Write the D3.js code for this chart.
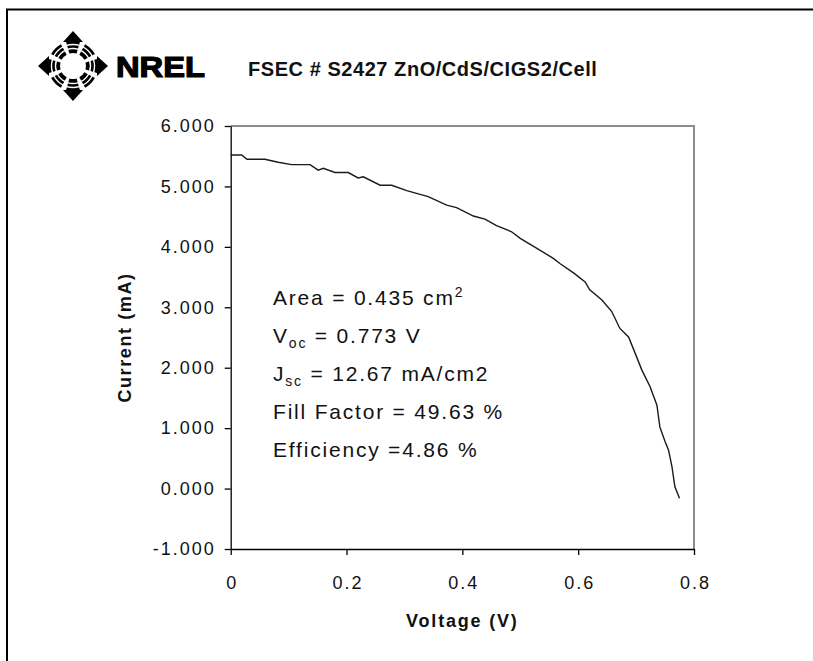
<!DOCTYPE html>
<html><head><meta charset="utf-8">
<script src="https://cdn.jsdelivr.net/npm/d3@7"></script>
<style>body{margin:0;background:#fff}svg{display:block}</style>
</head><body>
<svg id="c" width="813" height="661"></svg>
<script>
// ---- data ----
const voltage = [0.000,0.019,0.028,0.059,0.082,0.105,0.137,0.151,0.160,0.180,0.203,0.220,0.229,0.258,0.278,0.304,0.341,0.373,0.390,0.419,0.439,0.459,0.485,0.500,0.528,0.557,0.569,0.592,0.612,0.620,0.641,0.658,0.672,0.687,0.695,0.710,0.724,0.736,0.741,0.750,0.756,0.762,0.767,0.775];
const current = [5.52,5.52,5.45,5.45,5.40,5.36,5.36,5.27,5.30,5.23,5.23,5.14,5.16,5.02,5.02,4.93,4.83,4.69,4.65,4.51,4.46,4.35,4.25,4.14,3.98,3.81,3.72,3.57,3.42,3.29,3.12,2.93,2.65,2.51,2.32,1.96,1.69,1.38,1.02,0.78,0.64,0.36,0.03,-0.16];
const yTicks = [-1,0,1,2,3,4,5,6];
const xTicks = [0,0.2,0.4,0.6,0.8];
const titleText = "FSEC # S2427 ZnO/CdS/CIGS2/Cell";
const logoText = "NREL";
const xTitle = "Voltage (V)";
const yTitle = "Current (mA)";
const annotLines = [
  [["Area = 0.435 cm",""],["2","sup"]],
  [["V",""],["oc","sub"],[" = 0.773 V",""]],
  [["J",""],["sc","sub"],[" = 12.67 mA/cm2",""]],
  [["Fill Factor = 49.63 %",""]],
  [["Efficiency =4.86 %",""]]
];

// ---- drawing ----
const FONT = "'Liberation Sans', Arial, sans-serif";
const svg = d3.select("#c");

// outer frame
svg.append("path").attr("d","M7,661 L7,9.5 L813,9.5")
  .attr("fill","none").attr("stroke","#000").attr("stroke-width",2);

const x = d3.scaleLinear().domain([0,0.8]).range([230.7,694]);
const y = d3.scaleLinear().domain([-1,6]).range([549,126]);

// plot area top/right border (gray)
svg.append("path")
  .attr("d",`M${x(0)},${y(6)} L${x(0.8)},${y(6)} L${x(0.8)},${y(-1)}`)
  .attr("fill","none").attr("stroke","#8c8c8c").attr("stroke-width",2);

// y axis
const gy = svg.append("g").attr("transform",`translate(${x(0)},0)`)
  .call(d3.axisLeft(y).tickValues(yTicks).tickFormat(d=>d.toFixed(3))
        .tickSize(6).tickSizeOuter(0).tickPadding(9));
// x axis
const gx = svg.append("g").attr("transform",`translate(0,${y(-1)})`)
  .call(d3.axisBottom(x).tickValues(xTicks).tickFormat(d=>String(d))
        .tickSize(6).tickSizeOuter(0));
[gx,gy].forEach(g=>{
  g.select(".domain").attr("stroke","#000").attr("stroke-width",1.3);
  g.selectAll(".tick line").attr("stroke","#000").attr("stroke-width",1.3);
  g.selectAll("text").attr("font-family",FONT).attr("font-size",18)
    .attr("fill","#111").style("letter-spacing","2px");
});
gx.selectAll("text").attr("y",40).attr("dy",null).attr("dx",1);

// curve
const pts = voltage.map((v,i)=>[v,current[i]]);
svg.append("path").datum(pts)
  .attr("d",d3.line().x(d=>x(d[0])).y(d=>y(d[1])))
  .attr("fill","none").attr("stroke","#1a1a1a").attr("stroke-width",1.4);

// axis titles
svg.append("text").text(xTitle)
  .attr("x",(x(0)+x(0.8))/2).attr("y",627).attr("text-anchor","middle")
  .attr("font-family",FONT).attr("font-weight","bold").attr("font-size",18)
  .style("letter-spacing","1.8px").attr("fill","#111");
svg.append("text").text(yTitle)
  .attr("transform",`translate(131,${(y(6)+y(-1))/2}) rotate(-90)`)
  .attr("text-anchor","middle")
  .attr("font-family",FONT).attr("font-weight","bold").attr("font-size",18)
  .style("letter-spacing","1.6px").attr("fill","#111");

// title
svg.append("text").text(titleText)
  .attr("x",248).attr("y",76)
  .attr("font-family",FONT).attr("font-weight","bold").attr("font-size",20)
  .style("letter-spacing","0.55px").attr("fill","#111");

// annotations
const annot = svg.append("g").attr("font-family",FONT).attr("font-size",21)
  .attr("fill","#111").style("letter-spacing","1.8px");
annotLines.forEach((parts,i)=>{
  const t = annot.append("text").attr("x",273).attr("y",305 + i*38);
  let shift = 0;
  parts.forEach(([s,kind])=>{
    const sp = t.append("tspan").text(s);
    if(kind==="sub"){ sp.attr("font-size",14).attr("dy",5-shift); shift=5; }
    else if(kind==="sup"){ sp.attr("font-size",14).attr("dy",-8-shift); shift=-8; }
    else { if(shift!==0){ sp.attr("dy",-shift); shift=0; } }
  });
});

// NREL logo
const logo = svg.append("g").attr("transform","translate(73,66)");
const arc = d3.arc();
for(let k=0;k<8;k++){
  const ang = k*Math.PI/4; // 0 = up (d3.arc convention)
  const half = 16*Math.PI/180;
  logo.append("path").attr("d",arc({innerRadius:13,outerRadius:25,startAngle:ang-half,endAngle:ang+half}))
    .attr("fill","#000");
  [17.5,21.5].forEach(r=>{
    logo.append("path").attr("d",arc({innerRadius:r-0.7,outerRadius:r+0.7,startAngle:ang-half-0.05,endAngle:ang+half+0.05}))
      .attr("fill","#fff");
  });
  if(k%2===0){
    const deg = k*45;
    logo.append("path").attr("d","M-10,-24 L10,-24 L0,-35 Z")
      .attr("transform",`rotate(${deg})`).attr("fill","#000");
  }
}
svg.append("text").text(logoText)
  .attr("x",116).attr("y",77)
  .attr("font-family",FONT).attr("font-weight","bold").attr("font-size",29)
  .attr("stroke","#000").attr("stroke-width",1.2)
  .attr("textLength",89).attr("lengthAdjust","spacingAndGlyphs").attr("fill","#000");
</script>
</body></html>
